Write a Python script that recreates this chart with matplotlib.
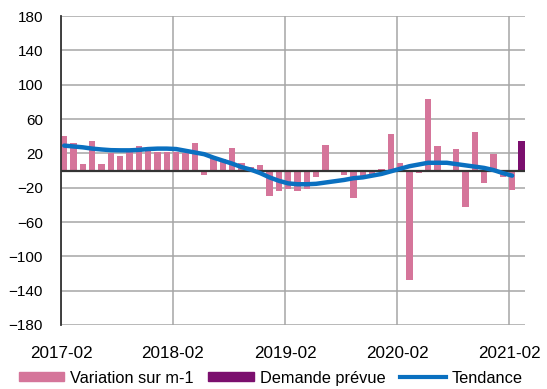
import matplotlib
matplotlib.use("Agg")
import matplotlib.pyplot as plt
from matplotlib.patches import Patch
from matplotlib.lines import Line2D

plt.rcParams['font.family'] = ['Liberation Sans', 'DejaVu Sans']

# monthly change, 2017-02 .. 2021-02
variation = [40, 32, 8, 34, 8, 20, 17, 21, 29, 23, 22, 22,
             22, 20, 32, -5, 15, 13, 26, 9, 4, 6, -30, -24,
             -22, -24, -22, -7, 30, -2, -5, -32, -8, -6, 2, 42,
             9, -128, -3, 83, 28, -2, 25, -42, 45, -14, 19, -7,
             -23]
# forecast for the following month
demande_prevue = [34]
tendance = [29, 28, 27, 25.5, 24.5, 23.7, 23.5, 23.5, 24, 25, 25.5, 25.5,
            25, 23, 21, 19, 15, 11.5, 8, 4, 1, -3, -8, -12,
            -15, -16, -16, -15.5, -14, -12.5, -11, -9, -8, -6, -4, -1,
            2, 5, 7, 9, 9, 9, 7.5, 6, 4.5, 3, 0.5, -3,
            -6]
tick_labels = ['2017-02', '2018-02', '2019-02', '2020-02', '2021-02']
tick_pos = [0, 12, 24, 36, 48]
yticks = [-180, -140, -100, -60, -20, 20, 60, 100, 140, 180]

pink = '#D5759A'
purple = '#7B0F6E'
blue = '#0A70C0'
grid = '#A6A6A6'

fig = plt.figure(figsize=(5.47, 3.89), dpi=100)
ax = fig.add_axes([61 / 547, 1 - 325 / 389, 464 / 547, 309 / 389])

w = 0.68
xs = list(range(len(variation)))
ax.bar(xs, variation, width=w, align='edge', color=pink, zorder=2)
xf = [len(variation) + i for i in range(len(demande_prevue))]
ax.bar(xf, demande_prevue, width=w, align='edge', color=purple, zorder=2)
ax.axhline(0, color='#333333', lw=1.6, zorder=3)
ax.plot([x + w / 2 for x in xs], tendance, color=blue, lw=3.2,
        solid_capstyle='round', zorder=4)

ax.set_xlim(0, len(variation) + 0.72)
ax.set_ylim(-180, 180)
ax.set_yticks(yticks)
ax.set_xticks(tick_pos)
ax.set_xticklabels(tick_labels)
ax.tick_params(length=0, colors='black')
ax.tick_params(axis='y', pad=13, labelsize=11)
ax.tick_params(axis='x', pad=15, labelsize=12.3)

for y in yticks:
    ax.axhline(y, color=grid, lw=1.1, zorder=1)
for x in tick_pos:
    ax.axvline(x, color=grid, lw=1.1, zorder=1)

for s in ['top', 'right', 'bottom']:
    ax.spines[s].set_visible(False)
ax.spines['left'].set_color('#333333')
ax.spines['left'].set_linewidth(1.3)
ax.spines['left'].set_zorder(5)

handles = [Patch(color=pink), Patch(color=purple), Line2D([], [], color=blue, lw=3)]
labels = ['Variation sur m-1', 'Demande prévue', 'Tendance']
fig.legend(handles, labels, loc='center', bbox_to_anchor=(0.495, 0.028), ncol=3,
           frameon=False, fontsize=11.8, handlelength=2.8, handleheight=0.45,
           handletextpad=0.35, columnspacing=0.9, borderpad=0)

fig.savefig('out.png', dpi=100)
